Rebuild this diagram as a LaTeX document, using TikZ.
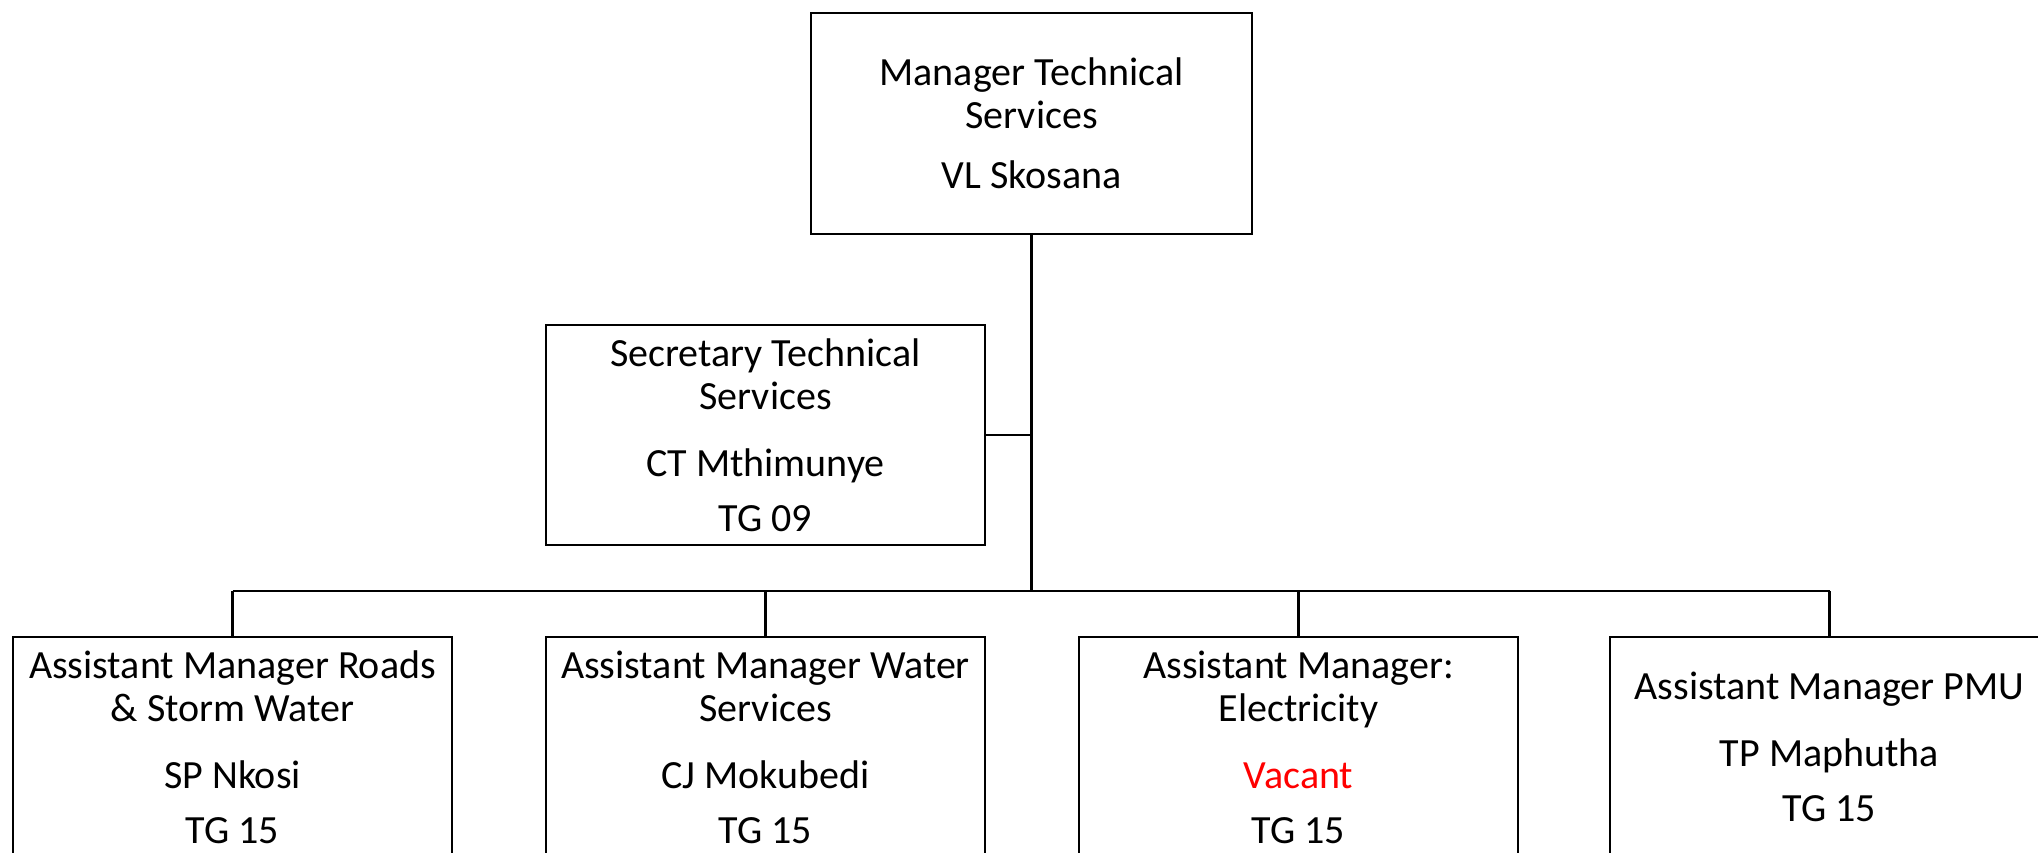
\documentclass[tikz,border=0pt]{standalone}
\usepackage{fontspec}
\setmainfont{Carlito}
\definecolor{vacantred}{RGB}{255,0,0}
\begin{document}
\begin{tikzpicture}[x=1pt,y=-1pt,
  box/.style={draw=black,line width=2.4pt,rectangle,minimum width=439pt,minimum height=220pt,
    align=center,inner sep=0pt,font=\fontsize{40}{43}\selectfont},
  conn/.style={draw=black,line width=2.6pt}]
\useasboundingbox (0,0) rectangle (2038,853);
\fill[white] (0,0) rectangle (2038,853);
\node[box,minimum width=441pt,minimum height=221pt] (top) at (1031.5,123.5)
  {Manager Technical\\Services\\[17pt]VL Skosana};
\node[box] (sec) at (765.5,435)
  {Secretary Technical\\Services\\[24pt]CT Mthimunye\\[12pt]TG 09};
\node[box] (b1) at (232.5,747)
  {Assistant Manager Roads\\\& Storm Water\\[24pt]SP Nkosi\\[12pt]TG 15};
\node[box] (b2) at (765.5,747)
  {Assistant Manager Water\\Services\\[24pt]CJ Mokubedi\\[12pt]TG 15};
\node[box] (b3) at (1298.5,747)
  {Assistant Manager:\\Electricity\\[24pt]\textcolor{vacantred}{Vacant}\\[12pt]TG 15};
\node[box] (b4) at (1829.5,747)
  {Assistant Manager PMU\\[24pt]TP Maphutha\\[12pt]TG 15};
\coordinate (bus) at (1031,591);
\draw[conn] (top.south) -- (top.south |- bus);
\draw[conn,line width=2.4pt] (sec.east) -- (sec.east -| top.south);
\draw[conn,line width=2.4pt] (b1.north |- bus) -- (b4.north |- bus);
\foreach \b in {b1,b2,b3,b4}
  \draw[conn,line width=2.4pt] (\b.north |- bus) -- (\b.north);
\end{tikzpicture}
\end{document}
